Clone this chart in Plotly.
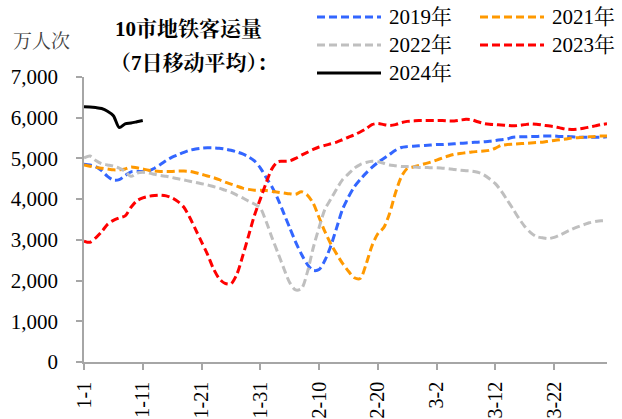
import plotly.graph_objects as go

# Day index from 1-1 to 3-31 (90 days); ticks every 10 days
days = list(range(90))
tick_days = [0, 10, 20, 30, 40, 50, 60, 70, 80]
tick_labels = ["1-1", "1-11", "1-21", "1-31", "2-10", "2-20", "3-2", "3-12", "3-22"]

# 10-city metro ridership, 7-day moving average (10k trips)
y2019 = [4860, 4840, 4800, 4700, 4560, 4470, 4480, 4580, 4670, 4680,
         4680, 4690, 4760, 4850, 4950, 5030, 5090, 5150, 5200, 5230,
         5250, 5260, 5260, 5250, 5230, 5200, 5160, 5110, 5040, 4940,
         4770, 4530, 4300, 4000, 3650, 3300, 2950, 2650, 2400, 2250,
         2270, 2500, 2850, 3300, 3750, 4050, 4300, 4480, 4640, 4780,
         4900, 5000, 5100, 5200, 5270, 5290, 5300, 5310, 5320, 5330,
         5340, 5340, 5350, 5360, 5370, 5380, 5390, 5400, 5410, 5420,
         5440, 5460, 5480, 5520, 5530, 5530, 5540, 5540, 5550, 5550,
         5550, 5540, 5540, 5530, 5520, 5520, 5520, 5520, 5520, 5530]

y2021 = [4840, 4810, 4780, 4760, 4740, 4720, 4720, 4740, 4790, 4770,
         4740, 4710, 4690, 4680, 4680, 4680, 4690, 4690, 4680, 4650,
         4610, 4570, 4530, 4480, 4420, 4370, 4320, 4270, 4240, 4220,
         4220, 4210, 4190, 4170, 4150, 4130, 4120, 4180, 4100, 3900,
         3550, 3200, 2900, 2650, 2420, 2230, 2070, 2050, 2400, 2850,
         3150, 3300, 3650, 4150, 4550, 4750, 4790, 4830, 4870, 4910,
         4960, 5010, 5060, 5100, 5120, 5140, 5160, 5170, 5180, 5200,
         5250, 5320, 5340, 5350, 5360, 5370, 5380, 5390, 5400, 5420,
         5440, 5460, 5480, 5500, 5510, 5520, 5530, 5540, 5550, 5550]

y2022 = [5010, 5060, 4950, 4870, 4840, 4810, 4760, 4680, 4560, 4640,
         4660, 4640, 4610, 4580, 4560, 4530, 4500, 4470, 4440, 4410,
         4380, 4350, 4310, 4270, 4220, 4170, 4100, 4030, 3950, 3880,
         3780, 3450, 3050, 2680, 2300, 1950, 1770, 1800, 2200, 2800,
         3300, 3750, 4000, 4250, 4480, 4620, 4760, 4850, 4900, 4930,
         4920, 4880, 4840, 4820, 4800, 4800, 4790, 4780, 4780, 4770,
         4770, 4760, 4750, 4730, 4710, 4700, 4690, 4660, 4600, 4500,
         4380, 4200, 3980, 3760, 3530, 3330, 3180, 3080, 3050, 3030,
         3060, 3120, 3190, 3260, 3320, 3370, 3420, 3450, 3470, 3470]

y2023 = [2970, 2940, 3050, 3200, 3380, 3480, 3540, 3590, 3800, 3960,
         4030, 4070, 4090, 4100, 4080, 4030, 3940, 3800, 3550, 3250,
         2950, 2650, 2300, 2050, 1930, 1920, 2150, 2600, 3100, 3600,
         4000, 4400, 4750, 4920, 4930, 4940, 5000, 5080, 5150, 5220,
         5280, 5320, 5360, 5400, 5460, 5520, 5580, 5650, 5730, 5830,
         5860, 5830, 5810, 5830, 5880, 5910, 5920, 5930, 5930, 5930,
         5930, 5930, 5920, 5920, 5940, 5960, 5950, 5900, 5860, 5840,
         5830, 5820, 5810, 5800, 5810, 5830, 5850, 5840, 5820, 5800,
         5780, 5750, 5720, 5710, 5720, 5740, 5770, 5800, 5830, 5850]

y2024 = [6270, 6265, 6250, 6225, 6160, 6050, 5760, 5850, 5870, 5900, 5930]

series = [
    ("2019年", y2019, "#3366FF", "dash"),
    ("2021年", y2021, "#FF9900", "dash"),
    ("2022年", y2022, "#BFBFBF", "dash"),
    ("2023年", y2023, "#FF0000", "dash"),
    ("2024年", y2024, "#000000", "solid"),
]

DASH = "8px,4px"
FONT = "Liberation Serif, 'Noto Serif CJK SC', 'Noto Sans CJK SC', serif"
W, H = 622, 419
L, R, T, B = 84, 15, 77, 57
PW, PH = W - L - R, H - T - B


def px_x(px):
    return (px - L) / PW


def px_y(py):
    return (H - B - py) / PH


fig = go.Figure()
for name, vals, color, style in series:
    fig.add_trace(go.Scatter(
        x=days[:len(vals)], y=vals, mode="lines", name=name,
        line=dict(color=color, width=3, shape="spline", smoothing=0.8,
                  dash=DASH if style == "dash" else "solid"),
        showlegend=False, hoverinfo="skip",
    ))

# Two-column legend drawn above the plot area
legend_slots = [(317, 17), (480, 17), (317, 45), (480, 45), (317, 73)]
shapes, annotations = [], []
for (name, _, color, style), (lx, ly) in zip(series, legend_slots):
    shapes.append(dict(
        type="line", xref="paper", yref="paper",
        x0=px_x(lx), x1=px_x(lx + 64), y0=px_y(ly), y1=px_y(ly),
        line=dict(color=color, width=3, dash=DASH if style == "dash" else "solid"),
    ))
    annotations.append(dict(
        text=name, xref="paper", yref="paper", x=px_x(lx + 70), y=px_y(ly),
        xanchor="left", yanchor="middle", showarrow=False,
        font=dict(family=FONT, size=21, color="#000000"),
    ))

annotations += [
    dict(text="<b>10市地铁客运量</b>", xref="paper", yref="paper",
         x=px_x(188), y=px_y(29), xanchor="center", yanchor="middle",
         showarrow=False, font=dict(family=FONT, size=21, color="#000000")),
    dict(text="<b>（7日移动平均）：</b>", xref="paper", yref="paper",
         x=px_x(194), y=px_y(63), xanchor="center", yanchor="middle",
         showarrow=False, font=dict(family=FONT, size=21, color="#000000")),
    dict(text="万人次", xref="paper", yref="paper",
         x=px_x(41), y=px_y(41), xanchor="center", yanchor="middle",
         showarrow=False, font=dict(family=FONT, size=19, color="#404040")),
]

axis_common = dict(
    showline=True, linecolor="#A6A6A6", linewidth=1.5,
    ticks="outside", tickcolor="#A6A6A6", ticklen=6, tickwidth=1.5,
    showgrid=False, zeroline=False, automargin=False,
)

fig.update_layout(
    width=W, height=H,
    margin=dict(l=L, r=R, t=T, b=B, pad=0),
    paper_bgcolor="white", plot_bgcolor="white",
    xaxis=dict(range=[0, 89], tickvals=tick_days, ticktext=tick_labels,
               tickangle=-90, ticklabelstandoff=4,
               tickfont=dict(family=FONT, size=20, color="#000000"),
               **axis_common),
    yaxis=dict(range=[0, 7000], dtick=1000, tickformat=",d",
               ticklabelstandoff=14,
               tickfont=dict(family=FONT, size=21, color="#000000"),
               **axis_common),
    shapes=shapes, annotations=annotations,
)

fig.write_html("out.html")
